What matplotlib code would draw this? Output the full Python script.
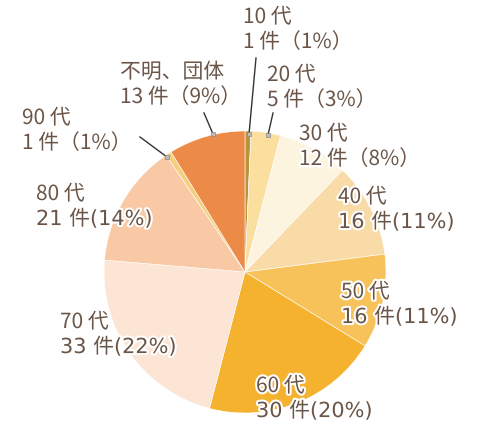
import matplotlib.pyplot as plt
import matplotlib.patheffects as pe

plt.rcParams['font.family'] = ['Noto Sans CJK JP', 'DejaVu Sans']

groups = ["10 代", "20 代", "30 代", "40 代", "50 代", "60 代", "70 代", "80 代", "90 代", "不明、団体"]
counts = [1, 5, 12, 16, 16, 30, 33, 21, 1, 13]
percents = [1, 3, 8, 11, 11, 20, 22, 14, 1, 9]
colors = ["#b8953c", "#fbdf9f", "#fdf4df", "#f9dba8", "#f7c259", "#f5b22f",
          "#fce5d4", "#f8c9a4", "#f6cf7e", "#ec8b47"]

# label positions in pixels (x of left edge, y of first line centre, from top)
label_pos = [(243, 17), (267, 75), (299, 134), (338, 197), (341, 292),
             (256, 386), (60, 322), (36, 194), (22, 118), (120, 72)]
# leader lines (pixels from top): (x0, y0, x1, y1)
leaders = [(249, 134, 256, 58), (268, 135, 273, 113),
           (213, 134, 204, 113), (167, 157, 140, 137)]

W, H = 478, 438
fig = plt.figure(figsize=(4.78, 4.38), dpi=100)
ax = fig.add_axes([0, 0, 1, 1])

ax.pie(counts, colors=colors, startangle=90, counterclock=False,
       center=(245, H - 272), radius=141,
       wedgeprops=dict(edgecolor="white", linewidth=0.4))

ax.set_xlim(0, W)
ax.set_ylim(0, H)
ax.set_aspect("equal")
ax.axis("off")

for x0, y0, x1, y1 in leaders:
    ax.plot([x0, x1], [H - y0, H - y1], color="#333333", lw=1.0)
    ax.plot([x0], [H - y0], marker="s", ms=3, color="#bbbbbb", mec="#888888", mew=0.5)

text_color = "#6a5548"
stroke = [pe.withStroke(linewidth=3, foreground="white")]
cjk = ["Noto Sans CJK JP", "DejaVu Sans"]
latin = ["DejaVu Sans", "Noto Sans CJK JP"]
for name, n, p, (x, y) in zip(groups, counts, percents, label_pos):
    if p < 10:
        line2, fam = f"{n} 件（{p}%）", cjk
    else:
        line2, fam = f"{n} 件({p}%)", latin
    ax.text(x, H - y, name, fontsize=15, color=text_color, va="center", ha="left",
            family=cjk, path_effects=stroke)
    ax.text(x, H - y - 25, line2, fontsize=15, color=text_color, va="center", ha="left",
            family=fam, path_effects=stroke)

fig.savefig("out.png", dpi=100)
